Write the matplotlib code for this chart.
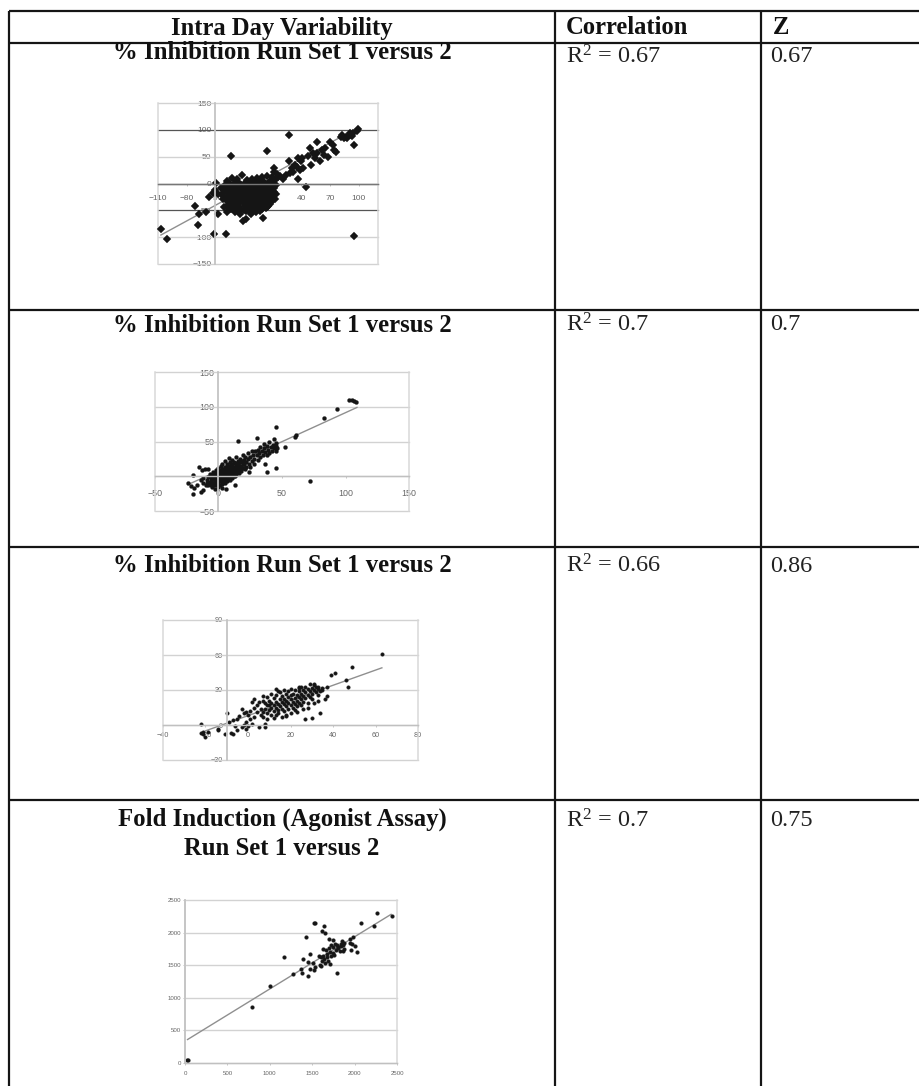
import numpy as np
import matplotlib
matplotlib.use("Agg")
import matplotlib.pyplot as plt

plt.rcParams["font.family"] = ["Liberation Serif", "DejaVu Serif"]
plt.rcParams["mathtext.default"] = "regular"

W, H = 920, 1086

# ── table text ───────────────────────────────────────────────────────────────
HEADERS = ["Intra Day Variability", "Correlation", "Z"]
TITLES = ["% Inhibition Run Set 1 versus 2",
          "% Inhibition Run Set 1 versus 2",
          "% Inhibition Run Set 1 versus 2",
          "Fold Induction (Agonist Assay)\nRun Set 1 versus 2"]
R2_VALUES = ["0.67", "0.7", "0.66", "0.7"]
Z_VALUES = ["0.67", "0.7", "0.86", "0.75"]

# ── scatter values ───────────────────────────────────────────────────────────
PANEL1_POINTS = [
    (-107, -84), (-101, -104), (-68, -78), (-51, -94), (-39, -94), (95, -98),
    (-34, 52), (4, 61), (27, 90), (-49, 1), (-57, -26), (-71, -41), (-67, -57),
    (-60, -54), (-47, -57), (-38, -54), (-21, -69), (-18, -66), (0, -64),
    (3, -45), (-13, -57), (45, -6), (36, 9), (12, -29), (-50, -12), (-47, -20),
    (-44, -8), (-52, -17), (-42, -28), (-41, -44), (-36, -48),
    (-38, 5), (-33, 10), (-27, 8), (-22, 15), (-17, 6), (-12, 9), (-6, 11), (-1, 12), (4, 14), (9, 13),
    (-40, -2), (-36, 1), (-31, -1), (-26, 2), (-20, 0), (-15, 3), (-9, 1), (-4, 4), (1, 3), (7, 5), (12, 6),
    (-41, -11), (-37, -8), (-30, -7), (-25, -9), (-19, -6), (-13, -8), (-8, -5), (-2, -7), (3, -4), (8, -6), (13, -3),
    (-42, -17), (-38, -15), (-32, -16), (-27, -14), (-21, -17), (-16, -13), (-10, -15), (-5, -14), (0, -16), (6, -13), (11, -15),
    (-42, -24), (-35, -22), (-30, -25), (-24, -23), (-18, -21), (-12, -24), (-7, -22), (-1, -25), (4, -21), (9, -23), (13, -20),
    (-39, -31), (-33, -33), (-28, -30), (-22, -32), (-16, -29), (-11, -33), (-5, -30), (1, -32), (6, -29), (10, -31),
    (-37, -40), (-32, -38), (-26, -41), (-20, -37), (-14, -40), (-9, -38), (-3, -41), (2, -37), (7, -39),
    (-34, -47), (-28, -45), (-23, -49), (-17, -46), (-11, -48), (-6, -45), (-1, -47), (4, -44),
    (-30, -53), (-24, -56), (-18, -52), (-12, -51), (-8, -54),
    (-35, -4), (-28, 4), (-23, -3), (-17, -2), (-11, -3), (-6, -1), (-1, -2), (5, 0), (10, 1),
    (-34, -11), (-28, -11), (-22, -11), (-16, -10), (-10, -10), (-4, -10), (1, -10), (6, -9), (11, -9),
    (-36, -19), (-30, -19), (-24, -19), (-18, -18), (-13, -19), (-8, -18), (-2, -20), (3, -18), (8, -18),
    (-37, -27), (-31, -28), (-26, -27), (-20, -27), (-14, -26), (-9, -28), (-3, -27), (2, -27), (7, -26),
    (-35, -36), (-29, -35), (-24, -35), (-18, -34), (-13, -35), (-7, -35), (-1, -36), (4, -34),
    (-31, -43), (-25, -44), (-19, -42), (-12, -43), (-7, -42), (0, -42), (5, -41),
    (-27, -50), (-20, -50), (-14, -53), (-3, -51),
    (11, 28), (11, 22), (21, 9), (15, 12), (24, 16), (27, 41), (31, 22), (33, 34), (36, 47),
    (40, 41), (38, 25), (35, 30), (42, 28), (41, 47), (18, 14), (14, 18), (28, 19), (30, 29),
    (50, 34), (49, 66), (52, 56), (56, 78), (56, 56), (59, 41), (54, 47), (61, 63), (65, 66),
    (68, 50), (70, 78), (73, 72), (74, 63), (76, 59), (47, 52), (64, 54),
    (82, 91), (84, 84), (87, 87), (91, 91), (94, 94), (98, 97), (99, 101), (95, 72), (91, 95),
    (88, 85), (93, 89), (81, 86),
]
PANEL1_TREND_X = [-107, 98]
PANEL1_TREND_Y = [-96, 103]

PANEL2_POINTS = [
    (103, 109), (105, 109), (107, 108), (108, 107), (93, 97), (83, 84), (45, 71),
    (30, 55), (15, 51), (72, -7), (61, 59), (60, 57), (52, 42), (45, 12), (38, 6),
    (37, 18), (44, 53), (45, 48), (-20, 2), (-15, 14), (-24, -10), (-20, -25),
    (-14, -23), (13, -12), (24, 6), (-17, -13), (-22, -14), (-19, -17), (-12, -20),
    (-13, 9), (-11, 10), (-8, 11), (0, -15), (3, -17), (6, -18), (-5, -16), (-3, -18),
    (-14, -6), (-12, -3), (-12, -9), (-10, -13), (-9, -5), (-9, -10), (-8, -1), (-7, 3), (-7, -8),
    (-6, -12), (-5, -4), (-5, 2), (-4, 6), (-4, -9), (-3, -13), (-3, -1), (-2, 4), (-2, 9), (-2, -6),
    (-1, -11), (-1, 1), (0, 6), (0, 12), (0, -4), (0, -8), (1, -13), (1, 2), (1, 9), (2, 15), (2, -2),
    (2, -7), (3, -11), (3, 4), (3, 11), (3, 18), (4, 0), (4, -5), (5, -9), (5, 7), (5, 14), (5, 22),
    (6, 2), (6, -3), (7, -7), (7, 10), (7, 17), (8, 26), (8, 5), (8, 0), (9, -5), (9, 13), (9, 20),
    (10, 8), (10, 2), (11, -2), (11, 16), (11, 24), (12, 10), (12, 5), (13, 19), (13, 1), (14, 13),
    (14, 27), (14, 7), (15, 22), (15, 17), (16, 10), (16, 4), (17, 25), (17, 15), (18, 20), (18, 8),
    (19, 30), (19, 12), (20, 24), (20, 17), (21, 10), (21, 28), (22, 20), (22, 14), (23, 33), (23, 25),
    (24, 18), (25, 13), (25, 28), (26, 22), (26, 36), (27, 30), (28, 17), (28, 25), (29, 36), (30, 30),
    (31, 24), (31, 38), (32, 33), (33, 42), (33, 27), (34, 36), (35, 31), (36, 40), (36, 46), (37, 35),
    (38, 43), (38, 30), (39, 38), (40, 49), (40, 33), (41, 42), (42, 37), (43, 45), (44, 40), (45, 36),
    (45, 44), (46, 41),
    (-8, -12), (-6, -7), (-6, -2), (-4, -12), (-4, -4), (-3, 2), (-3, -8), (-1, -6), (-1, 4), (0, -1),
    (0, 2), (1, -6), (1, -2), (1, 5), (2, 0), (2, 4), (2, 8), (3, -8), (3, -3), (3, 1), (3, 7), (4, -8),
    (4, 3), (4, 10), (5, -3), (5, 1), (5, 4), (6, -6), (6, 5), (6, 9), (7, -2), (7, 2), (7, 7), (7, 13),
    (8, -3), (8, 3), (8, 9), (8, 15), (9, 1), (9, 6), (9, 10), (10, -1), (10, 5), (10, 12), (10, 17),
    (11, 3), (11, 8), (12, 1), (12, 14), (12, 20), (13, 6), (13, 10), (14, 3), (14, 17), (15, 8), (15, 12),
    (16, 15), (16, 20), (17, 9), (18, 13), (19, 17), (19, 22), (20, 12),
]
PANEL2_TREND_X = [-24, 109]
PANEL2_TREND_Y = [-12, 99]

PANEL3_POINTS = [
    (63, 61), (49, 50), (46, 39), (47, 33), (41, 45), (39, 43), (-22, 1), (-22, -7), (-21, -8),
    (-20, -10), (-19, -6), (-21, -6), (-14, -4), (-14, -3), (-11, -8), (-10, 10), (-8, -7),
    (-7, -8), (-6, -1), (-5, -4), (-9, 3), (-7, 4), (-5, 5), (-4, 8), (-3, 14), (-3, -2),
    (-2, 0), (-1, -3), (-1, 3), (0, -1), (1, 5), (1, 12), (-1, 11), (-2, 10), (0, 9),
    (5, -2), (8, -2), (8, 1), (2, 1), (9, 17), (5, 20), (3, 15), (2, 20), (4, 17), (6, 14),
    (7, 11), (7, 21), (8, 19), (8, 14), (9, 10), (9, 24), (10, 17), (10, 13), (10, 21),
    (11, 15), (11, 19), (11, 9), (12, 23), (12, 17), (12, 12), (13, 20), (13, 15), (13, 26),
    (14, 18), (14, 13), (14, 10), (15, 22), (15, 16), (15, 28), (16, 20), (16, 14), (16, 25),
    (17, 18), (17, 12), (17, 22), (18, 27), (18, 16), (18, 21), (18, 9), (19, 24), (19, 19),
    (19, 14), (19, 29), (20, 22), (20, 17), (20, 26), (20, 31), (21, 20), (21, 15), (21, 27),
    (22, 23), (22, 18), (22, 30), (22, 13), (23, 26), (23, 21), (23, 16), (24, 29), (24, 24),
    (24, 19), (24, 32), (25, 27), (25, 22), (25, 17), (26, 30), (26, 25), (26, 20), (27, 33),
    (27, 28), (27, 23), (28, 31), (28, 26), (28, 19), (29, 29), (29, 24), (30, 32), (30, 27),
    (30, 22), (31, 30), (31, 34), (32, 28), (32, 33), (33, 31), (33, 26), (34, 29), (34, 10),
    (35, 32), (35, 30), (37, 25), (37, 33), (36, 22), (27, 5), (30, 6), (18, 8), (16, 7),
    (12, 6), (9, 5), (6, 9), (4, 11), (3, 7), (7, 7), (13, 9), (26, 14), (28, 15), (33, 21),
    (23, 11), (20, 10), (31, 19), (25, 33), (29, 35), (31, 35), (33, 33), (24, 33),
    (14, 29), (13, 31), (7, 25), (3, 22), (11, 27), (17, 30),
]
PANEL3_TREND_X = [-20, 63]
PANEL3_TREND_Y = [-5, 49]

PANEL4_POINTS = [
    (20, 40), (35, 40), (795, 860), (1000, 1180), (1165, 1620), (1270, 1360), (1365, 1440),
    (1385, 1380), (1395, 1590), (1430, 1930), (1450, 1330), (1445, 1550), (1470, 1440),
    (1470, 1670), (1510, 1540), (1525, 1420), (1530, 1470), (1520, 2145), (1535, 2150),
    (1580, 1640), (1590, 1500), (1600, 1620), (1605, 1490), (1610, 2020), (1620, 1570),
    (1625, 1750), (1630, 1640), (1640, 2100), (1640, 1600), (1650, 1530), (1650, 1990),
    (1660, 1730), (1670, 1620), (1680, 1670), (1690, 1570), (1700, 1760), (1700, 1900),
    (1710, 1520), (1710, 1700), (1720, 1810), (1725, 1640), (1740, 1690), (1745, 1890),
    (1750, 1780), (1760, 1660), (1770, 1820), (1780, 1730), (1790, 1380), (1790, 1810),
    (1800, 1760), (1810, 1780), (1830, 1720), (1835, 1830), (1840, 1790), (1850, 1870),
    (1860, 1810), (1865, 1720), (1875, 1750), (1880, 1840), (1945, 1840), (1950, 1900),
    (1960, 1730), (1965, 1820), (1980, 1940), (2010, 1800), (2030, 1700), (2080, 2150),
    (2230, 2100), (2260, 2300), (2440, 2250),
]
PANEL4_TREND_X = [30, 2430]
PANEL4_TREND_Y = [360, 2280]

# ── figure and table rules ───────────────────────────────────────────────────
fig = plt.figure(figsize=(W / 100, H / 100), dpi=100, facecolor="white")
table = fig.add_axes([0, 0, 1, 1])
table.set_xlim(0, W)
table.set_ylim(H, 0)
table.axis("off")

RULES_Y = [11, 43, 310, 547, 800]
RULES_X = [9, 555, 761]
for y in RULES_Y:
    table.plot([9, W], [y, y], color="#151515", lw=1.6, solid_capstyle="butt")
for x in RULES_X:
    table.plot([x, x], [11, H], color="#151515", lw=1.6, solid_capstyle="butt")

table.text(282, 28, HEADERS[0], ha="center", va="center", fontsize=17.7, fontweight="bold", color="#111")
table.text(566, 28, HEADERS[1], va="center", fontsize=17.7, fontweight="bold", color="#111")
table.text(773, 28, HEADERS[2], va="center", fontsize=17.7, fontweight="bold", color="#111")

TITLE_TOP_Y = [41, 314, 554, 808]
VALUE_Y = [57, 325, 566, 821]
for i in range(4):
    table.text(282, TITLE_TOP_Y[i], TITLES[i], ha="center", va="top", fontsize=17.8,
               fontweight="bold", color="#111", linespacing=1.3)
    table.text(566, VALUE_Y[i], "R$^{2}$ = " + R2_VALUES[i], va="center", fontsize=17.5, color="#222")
    table.text(770, VALUE_Y[i], Z_VALUES[i], va="center", fontsize=17.5, color="#222")


def panel(px_box, xlim, ylim, xticks, yticks, cross_x, points, trend_x, trend_y,
          marker, ms, label_size, label_pad, x_axis_color="#c0c0c0", dark_lines=()):
    left, right, top, bottom = px_box
    ax = fig.add_axes([left / W, 1 - bottom / H, (right - left) / W, (bottom - top) / H])
    ax.patch.set_alpha(0)
    ax.set_xlim(*xlim)
    ax.set_ylim(*ylim)
    ax.set_axisbelow(True)
    ax.set_xticks(xticks)
    ax.set_yticks(yticks)

    for s in ["top", "right"]:
        ax.spines[s].set_visible(False)
    ax.spines["left"].set_position(("data", cross_x))
    ax.spines["bottom"].set_position(("data", 0))
    ax.spines["left"].set_color("#c4c4c4")
    ax.spines["left"].set_linewidth(1.3)
    ax.spines["bottom"].set_color(x_axis_color)
    ax.spines["bottom"].set_linewidth(1.0)
    ax.tick_params(axis="x", labelsize=label_size, pad=label_pad, length=1.5, width=0.5,
                   color="#aaa", labelcolor="#666", labelfontfamily="Liberation Sans")
    ax.tick_params(axis="y", labelsize=label_size, pad=1.5, length=1.5, width=0.5,
                   color="#aaa", labelcolor="#666", labelfontfamily="Liberation Sans")

    # gridlines sit on the plot edge at the limits, so they must not be clipped
    for v in yticks:
        dark = v in dark_lines
        ax.axhline(v, color="#555" if dark else "#d2d2d2", lw=0.9 if dark else 1.0,
                   zorder=0.6, clip_on=False)
    for v in xlim:
        ax.axvline(v, color="#d8d8d8", lw=1.1, zorder=0.6, clip_on=False)

    arr = np.array(points)
    ax.plot(trend_x, trend_y, color="#8f8f8f", lw=1.0, zorder=1.5)
    ax.plot(arr[:, 0], arr[:, 1], ls="none", marker=marker, ms=ms, mfc="#151515", mec="#151515",
            mew=0.2, zorder=2, clip_on=False)
    return ax


panel((158, 378, 103, 264), (-110, 120), (-150, 150), np.arange(-110, 101, 30),
      np.arange(-150, 151, 50), -50, PANEL1_POINTS, PANEL1_TREND_X, PANEL1_TREND_Y,
      "D", 3.9, 6, 7, x_axis_color="#777777", dark_lines=(100, -50, 0))
panel((155, 409, 372, 511), (-50, 150), (-50, 150), np.arange(-50, 151, 50),
      np.arange(-50, 151, 50), 0, PANEL2_POINTS, PANEL2_TREND_X, PANEL2_TREND_Y,
      "o", 2.9, 6.4, 8)
panel((163, 418, 620, 760), (-40, 80), (-30, 90), np.arange(-40, 81, 20),
      np.arange(-30, 91, 30), -10, PANEL3_POINTS, PANEL3_TREND_X, PANEL3_TREND_Y,
      "o", 2.6, 5.2, 3.5)
panel((185, 397, 900, 1063), (0, 2500), (0, 2500), np.arange(0, 2501, 500),
      np.arange(0, 2501, 500), 0, PANEL4_POINTS, PANEL4_TREND_X, PANEL4_TREND_Y,
      "o", 2.7, 4.4, 4)

fig.savefig("out.png", dpi=100, facecolor="white")
